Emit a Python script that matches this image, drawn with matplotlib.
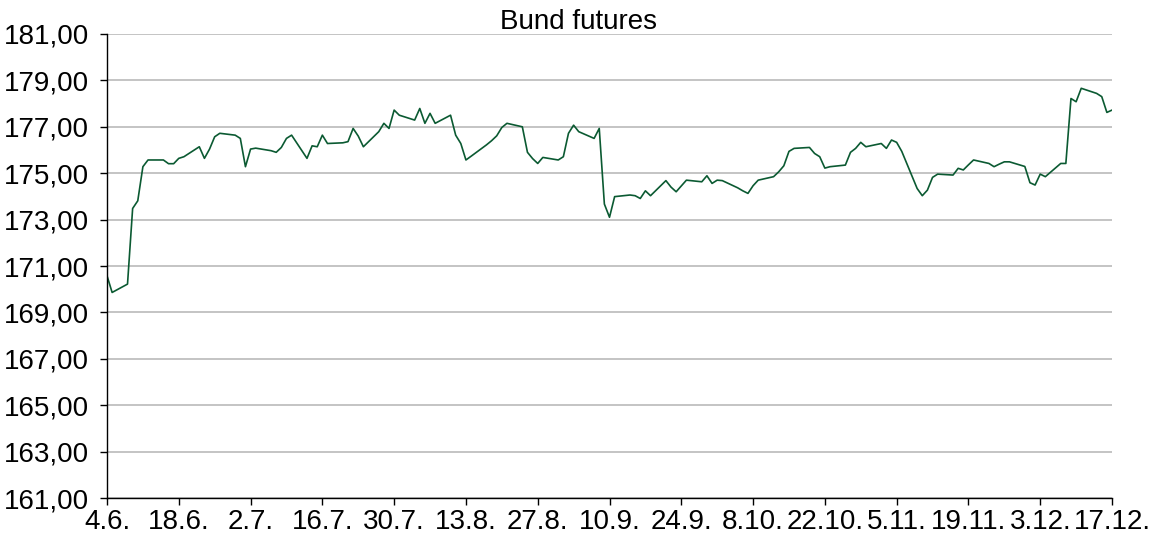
import numpy as np
import pandas as pd
import matplotlib
matplotlib.use("Agg")
import matplotlib.pyplot as plt

plt.rcParams['font.family'] = ['Liberation Sans', 'DejaVu Sans']

# Bund futures, business days 4.6.2020 - 17.12.2020
dates = pd.bdate_range("2020-06-04", "2020-12-17")
values = [
    170.58, 169.86,
    170.22, 173.48, 173.81, 175.28, 175.57,
    175.57, 175.41, 175.41, 175.64, 175.71,
    176.14, 175.64, 176.04, 176.57, 176.72,
    176.64, 176.50, 175.28, 176.04, 176.08,
    175.97, 175.90, 176.11, 176.50, 176.64,
    175.64, 176.18, 176.14, 176.64, 176.28,
    176.31, 176.36, 176.93, 176.60, 176.14,
    176.79, 177.15, 176.93, 177.72, 177.50,
    177.29, 177.79, 177.15, 177.58, 177.15,
    177.50, 176.64, 176.28, 175.57, 175.73,
    176.22, 176.40, 176.61, 176.97, 177.15,
    177.00, 175.90, 175.63, 175.42, 175.68,
    175.57, 175.71, 176.72, 177.07, 176.79,
    176.50, 176.93, 173.67, 173.10, 173.99,
    174.06, 174.03, 173.91, 174.24, 174.03,
    174.68, 174.40, 174.20, 174.45, 174.70,
    174.63, 174.89, 174.56, 174.70, 174.68,
    174.37, 174.24, 174.13, 174.46, 174.70,
    174.85, 175.06, 175.32, 175.94, 176.07,
    176.11, 175.85, 175.71, 175.22, 175.28,
    175.35, 175.90, 176.07, 176.33, 176.14,
    176.28, 176.07, 176.43, 176.33, 175.94,
    174.34, 174.03, 174.27, 174.82, 174.96,
    174.92, 175.21, 175.14, 175.36, 175.57,
    175.42, 175.28, 175.39, 175.49, 175.49,
    175.29, 174.59, 174.49, 174.96, 174.85,
    175.42, 175.42, 178.22, 178.08, 178.66,
    178.44, 178.30, 177.62, 177.72,
]
y_ticks = np.arange(161, 182, 2)
x_ticks = pd.date_range("2020-06-04", "2020-12-17", freq="14D")

W, H = 1151, 533
fig = plt.figure(figsize=(W / 100, H / 100), dpi=100)
ax = fig.add_axes([107 / W, 1 - 498 / H, (1112 - 107) / W, (498 - 34) / H])

ax.plot(dates, values, color="#0b5a32", lw=1.2)

ax.set_ylim(161, 181)
ax.set_yticks(y_ticks)
ax.set_yticklabels([f"{v:.2f}".replace(".", ",") for v in y_ticks])
ax.set_xlim(x_ticks[0], x_ticks[-1])
ax.set_xticks(x_ticks)
ax.set_xticklabels([f"{d.day}.{d.month}." for d in x_ticks])

ax.grid(axis="y", color="#bfbfbf", lw=1.3)
ax.set_axisbelow(True)
for s in ["top", "right"]:
    ax.spines[s].set_visible(False)
for s in ["left", "bottom"]:
    ax.spines[s].set_linewidth(1.0)
    ax.spines[s].set_color("black")
ax.tick_params(axis="both", direction="out", length=5, width=1, labelsize=20)
ax.tick_params(axis="y", pad=8)
ax.tick_params(axis="x", pad=3)

fig.text(579 / W, 1 - 22 / H, "Bund futures", ha="center", va="center", fontsize=20)

fig.savefig("out.png", dpi=100)
